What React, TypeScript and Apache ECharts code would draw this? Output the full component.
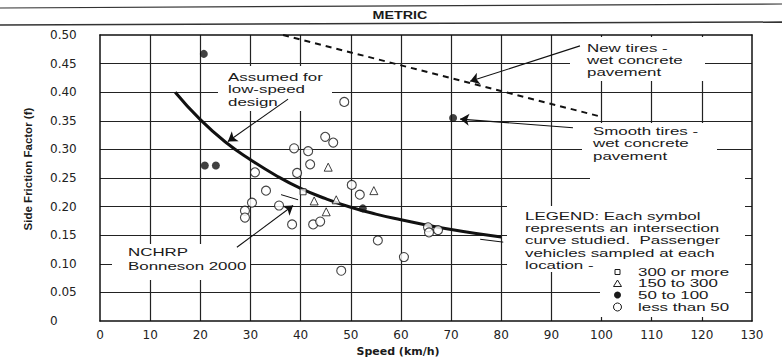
import React, { useEffect, useRef } from 'react';
import * as echarts from 'echarts';

// ---- data (speed km/h, side friction factor) ----
const sq300: [number, number][] = [[40.5, 0.226]];
const tri150: [number, number][] = [
  [45.5, 0.269], [54.6, 0.228], [42.7, 0.210], [47.1, 0.212], [45.1, 0.191],
];
const dot50: [number, number][] = [
  [20.7, 0.467], [20.9, 0.272], [23.1, 0.272], [70.4, 0.355], [52.4, 0.197],
];
const circLess50: [number, number][] = [
  [48.7, 0.383], [44.9, 0.322], [46.5, 0.312], [38.7, 0.302], [41.5, 0.297],
  [41.9, 0.274], [39.3, 0.259], [30.9, 0.260], [50.2, 0.238], [51.8, 0.221],
  [33.1, 0.228], [30.3, 0.207], [35.7, 0.202], [28.9, 0.193], [28.9, 0.181],
  [38.3, 0.169], [42.5, 0.169], [43.9, 0.174], [55.4, 0.141], [60.6, 0.112],
  [48.1, 0.088], [65.4, 0.164], [67.4, 0.159], [65.6, 0.155],
];
const lowSpeedCurve: [number, number][] = [
  [15, 0.400], [20, 0.352], [25, 0.313], [30, 0.282], [35, 0.255], [40, 0.232],
  [45, 0.214], [50, 0.199], [55, 0.187], [60, 0.177], [65, 0.168], [70, 0.160],
  [75, 0.153], [80, 0.147],
];
const newTiresLine: [number, number][] = [[36.5, 0.5], [100, 0.357]];
const bonnesonPieces: [number, number][][] = [
  [[36.1, 0.221], [39.5, 0.212]],
  [[75.8, 0.143], [80.4, 0.138]],
];
const arrows: [number, number][][] = [
  [[95.7, 0.481], [73.8, 0.419]],
  [[94.3, 0.338], [71.8, 0.353]],
  [[37.5, 0.388], [25.5, 0.314]],
  [[27.3, 0.129], [38.5, 0.202]],
];
const legendLabels = ['300 or more', '150 to 300', '50 to 100', 'less than 50'];
const xGridTicks = [10, 20, 30, 40, 50, 60, 70, 80, 90, 100, 110, 120];
const yGridTicks = [0.05, 0.1, 0.15, 0.2, 0.25, 0.3, 0.35, 0.4, 0.45];
const X_MAX = 130;
const Y_MAX = 0.5;

const INK = '#1a1a1a';
const TXT = { fontFamily: 'Liberation Sans, Arial, sans-serif', fontSize: 11.5, fill: INK };
const SX = 1.47;

function txt(x: number, y: number, text: string, lh: number) {
  return {
    type: 'text', x, y, z: 6, scaleX: SX,
    style: { ...TXT, text, lineHeight: lh, verticalAlign: 'top', align: 'left' },
  };
}
function box(x: number, y: number, w: number, h: number) {
  return { type: 'rect', z: 1, shape: { x, y, width: w, height: h }, style: { fill: '#ffffff' } };
}

export default function App() {
  const ref = useRef<HTMLDivElement>(null);
  useEffect(() => {
    document.body.style.margin = '0';
    const chart = echarts.init(ref.current!, null, { renderer: 'svg' });
    const legendY = [272, 283.5, 295, 307];
    const frameLine = { show: true, onZero: false, lineStyle: { color: '#111', width: 1.5 } };
    const gridCoords = [
      ...xGridTicks.map((v) => ({ coords: [[v, 0], [v, Y_MAX]] })),
      ...yGridTicks.map((v) => ({ coords: [[0, v], [X_MAX, v]] })),
    ];
    const option: any = {
      animation: false,
      grid: { left: 100, right: 30, top: 35, bottom: 37 },
      xAxis: [
        {
          type: 'value', min: 0, max: X_MAX, interval: 10, position: 'bottom',
          name: 'Speed (km/h)', nameLocation: 'middle', nameGap: 21,
          nameTextStyle: { fontFamily: 'DejaVu Sans', fontWeight: 'bold', fontSize: 11, color: INK, padding: [0, 56, 0, 0] },
          axisLine: frameLine,
          axisTick: { show: false },
          axisLabel: { fontFamily: 'DejaVu Sans', fontSize: 12, color: '#222', margin: 8 },
          splitLine: { show: false },
        },
        {
          type: 'value', min: 0, max: X_MAX, interval: 10, position: 'top',
          axisLine: frameLine, axisTick: { show: false }, axisLabel: { show: false }, splitLine: { show: false },
        },
      ],
      yAxis: [
        {
          type: 'value', min: 0, max: Y_MAX, interval: 0.05, position: 'left',
          name: 'Side Friction Factor (f)', nameLocation: 'middle', nameGap: 66,
          nameTextStyle: { fontFamily: 'Liberation Sans', fontWeight: 'bold', fontSize: 11.5, color: INK, padding: [0, 0, 0, 18] },
          axisLine: frameLine,
          axisTick: { show: false },
          axisLabel: {
            fontFamily: 'DejaVu Sans', fontSize: 12, color: '#222', margin: 50, align: 'left',
            formatter: (v: number) => (v === 0 ? '0' : v.toFixed(2)),
          },
          splitLine: { show: false },
        },
        {
          type: 'value', min: 0, max: Y_MAX, interval: 0.05, position: 'right',
          axisLine: frameLine, axisTick: { show: false }, axisLabel: { show: false }, splitLine: { show: false },
        },
      ],
      series: [
        {
          name: 'grid', type: 'lines', coordinateSystem: 'cartesian2d', silent: true,
          data: gridCoords, lineStyle: { color: '#222', width: 1.2, opacity: 1 }, z: 0,
        },
        {
          name: 'Assumed for low-speed design', type: 'line', data: lowSpeedCurve, smooth: true,
          showSymbol: false, lineStyle: { color: '#111', width: 3 }, z: 3,
        },
        {
          name: 'New tires - wet concrete pavement', type: 'line', data: newTiresLine,
          showSymbol: false, lineStyle: { color: '#111', width: 2, type: [6, 5] }, z: 3,
        },
        {
          name: 'NCHRP Bonneson 2000', type: 'lines', coordinateSystem: 'cartesian2d',
          data: bonnesonPieces.map((c) => ({ coords: c })),
          lineStyle: { color: '#111', width: 1, opacity: 1 }, z: 3,
        },
        {
          name: 'arrows', type: 'lines', coordinateSystem: 'cartesian2d',
          data: arrows.map((c) => ({ coords: c })),
          symbol: ['none', 'arrow'], symbolSize: 9,
          lineStyle: { color: '#111', width: 1.1, opacity: 1 }, z: 4,
        },
        {
          name: legendLabels[0], type: 'scatter', data: sq300, symbol: 'rect', symbolSize: 6,
          itemStyle: { color: '#fff', borderColor: '#111', borderWidth: 1 }, z: 5,
        },
        {
          name: legendLabels[1], type: 'scatter', data: tri150, symbol: 'triangle', symbolSize: 8,
          itemStyle: { color: '#fff', borderColor: '#111', borderWidth: 1 }, z: 5,
        },
        {
          name: legendLabels[2], type: 'scatter', data: dot50, symbol: 'circle', symbolSize: 8,
          itemStyle: { color: '#111' }, z: 5,
        },
        {
          name: legendLabels[3], type: 'scatter', data: circLess50, symbol: 'circle', symbolSize: 9,
          itemStyle: { color: '#fff', borderColor: '#111', borderWidth: 1.1 }, z: 5,
        },
      ],
      graphic: [
        { type: 'line', z: 6, shape: { x1: 0, y1: 8, x2: 782, y2: 4 }, style: { stroke: '#333', lineWidth: 1.2 } },
        { type: 'line', z: 6, shape: { x1: 0, y1: 25, x2: 782, y2: 22 }, style: { stroke: '#333', lineWidth: 1.4 } },
        {
          type: 'text', x: 400, y: 15, z: 6, scaleX: 1.3,
          style: { text: 'METRIC', fontFamily: 'Liberation Sans', fontWeight: 'bold', fontSize: 11, fill: INK, align: 'center', verticalAlign: 'middle' },
        },
        // white boxes behind annotations (hide grid lines like the original figure)
        box(218, 66, 114, 45),
        box(570, 37, 135, 44),
        box(582, 123, 135, 45),
        box(590, 168, 155, 38),
        box(507, 206, 238, 66),
        box(600, 271, 145, 46),
        box(112, 244, 138, 36),
        txt(228, 70.5, 'Assumed for\nlow-speed\ndesign', 12.5),
        txt(587, 42, 'New tires -\nwet concrete\npavement', 12),
        txt(593, 124.5, 'Smooth tires -\nwet concrete\npavement', 12.5),
        txt(128, 245, 'NCHRP\nBonneson 2000', 14),
        txt(525, 210, 'LEGEND: Each symbol\nrepresents an intersection\ncurve studied.  Passenger\nvehicles sampled at each\nlocation -', 12.2),
        ...legendLabels.map((l, i) => txt(638, legendY[i] - 6, l, 12)),
        { type: 'rect', z: 6, shape: { x: 615, y: legendY[0] - 2.5, width: 5, height: 5 }, style: { fill: '#fff', stroke: INK, lineWidth: 1 } },
        { type: 'polygon', z: 6, shape: { points: [[617.5, legendY[1] - 3.5], [621.5, legendY[1] + 3], [613.5, legendY[1] + 3]] }, style: { fill: '#fff', stroke: INK, lineWidth: 1 } },
        { type: 'circle', z: 6, shape: { cx: 617.5, cy: legendY[2], r: 3.5 }, style: { fill: INK } },
        { type: 'circle', z: 6, shape: { cx: 617.5, cy: legendY[3], r: 4 }, style: { fill: '#fff', stroke: INK, lineWidth: 1 } },
      ],
    };
    chart.setOption(option);
    return () => chart.dispose();
  }, []);
  return <div ref={ref} style={{ width: 782, height: 362, background: '#fff' }} />;
}
